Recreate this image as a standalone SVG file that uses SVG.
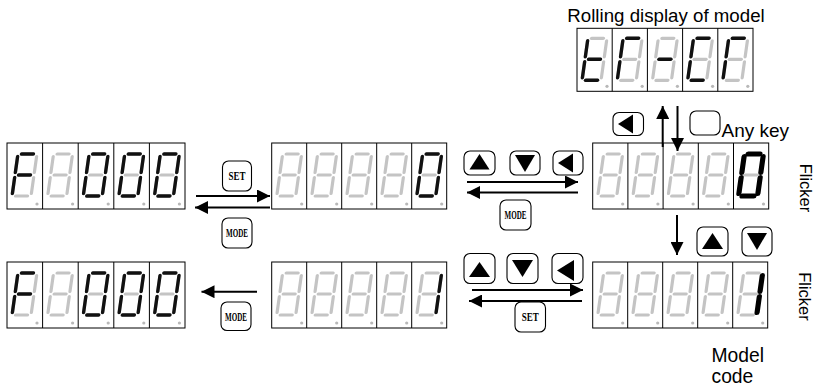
<svg xmlns="http://www.w3.org/2000/svg" xmlns:xlink="http://www.w3.org/1999/xlink" width="817" height="390" viewBox="0 0 817 390">
<style>
.frame{fill:none;stroke:#000;stroke-width:1}
.off{stroke:#c4c4c4;stroke-width:3.2;stroke-linecap:round;fill:none}
.on{stroke:#111;stroke-width:3.4;stroke-linecap:round;fill:none}
.bold{stroke:#000;stroke-width:5.2;stroke-linecap:round;fill:none}
.dot{fill:#b8b8b8}
.btn{fill:#fff;stroke:#000;stroke-width:1.1}
.tri{fill:#000}
.conn{stroke:#000;stroke-width:2;fill:none}
.lbl{font-family:"Liberation Sans",Arial,sans-serif;fill:#000}
.key{font-family:"Liberation Serif","Times New Roman",serif;font-weight:bold;font-size:12px;fill:#000}
</style>
<defs>
<marker id="ah" markerWidth="14" markerHeight="13" refX="13" refY="6.5" orient="auto" markerUnits="userSpaceOnUse"><path d="M0,0 L13,6.5 L0,13 z" fill="#000"/></marker>
<line id="sa" x1="3.5" y1="-21" x2="15.5" y2="-21"/>
<line id="sb" x1="19" y1="-18.5" x2="19" y2="-2.5"/>
<line id="sc" x1="19" y1="2.5" x2="19" y2="18.5"/>
<line id="sd" x1="3.5" y1="21" x2="15.5" y2="21"/>
<line id="se" x1="0" y1="2.5" x2="0" y2="18.5"/>
<line id="sf" x1="0" y1="-18.5" x2="0" y2="-2.5"/>
<line id="sg" x1="3.5" y1="0" x2="15.5" y2="0"/>
<g id="all"><use href="#sa"/><use href="#sb"/><use href="#sc"/><use href="#sd"/><use href="#se"/><use href="#sf"/><use href="#sg"/></g>
<g id="zero"><use href="#sa"/><use href="#sb"/><use href="#sc"/><use href="#sd"/><use href="#se"/><use href="#sf"/></g>
<g id="F"><use href="#sa"/><use href="#sf"/><use href="#se"/><use href="#sg"/></g>
<g id="one"><use href="#sb"/><use href="#sc"/></g>
<g id="t"><use href="#sf"/><use href="#se"/><use href="#sd"/><use href="#sg"/></g>
<g id="r"><use href="#sa"/><use href="#sf"/><use href="#se"/></g>
<g id="minus"><use href="#sg"/></g>
<g id="C"><use href="#sa"/><use href="#sf"/><use href="#se"/><use href="#sd"/></g>
<g id="cell"><g class="off" transform="translate(8,32) skewX(-8)"><use href="#all"/></g><circle class="dot" cx="30" cy="61" r="1.6"/></g>
<g id="cellR"><g class="off" transform="translate(8,31) skewX(-8)"><use href="#all"/></g><circle class="dot" cx="30" cy="58" r="1.6"/></g>
</defs>

<g id="display-rolling" transform="translate(577,28.3)">
<use href="#cellR"/><use href="#cellR" x="35.2"/><use href="#cellR" x="70.4"/><use href="#cellR" x="105.6"/><use href="#cellR" x="140.8"/>
<g class="on" transform="translate(8,31) skewX(-8)"><use href="#t"/><use href="#r" x="35.2"/><use href="#minus" x="70.4"/><use href="#C" x="105.6"/><use href="#r" x="140.8"/></g>
<rect class="frame" width="176" height="63"/>
<path class="frame" d="M35.2,0v63M70.4,0v63M105.6,0v63M140.8,0v63"/>
</g>

<g id="display-f000-top" transform="translate(7,143)">
<use href="#cell"/><use href="#cell" x="35.6"/><use href="#cell" x="71.2"/><use href="#cell" x="106.8"/><use href="#cell" x="142.4"/>
<g class="on" transform="translate(8,32) skewX(-8)"><use href="#F"/><use href="#zero" x="71.2"/><use href="#zero" x="106.8"/><use href="#zero" x="142.4"/></g>
<rect class="frame" width="178" height="66"/>
<path class="frame" d="M35.6,0v66M71.2,0v66M106.8,0v66M142.4,0v66"/>
</g>

<g id="display-0-top" transform="translate(271.7,143)">
<use href="#cell"/><use href="#cell" x="35"/><use href="#cell" x="70"/><use href="#cell" x="105"/><use href="#cell" x="140"/>
<g class="on" transform="translate(8,32) skewX(-8)"><use href="#zero" x="140"/></g>
<rect class="frame" width="175" height="66"/>
<path class="frame" d="M35,0v66M70,0v66M105,0v66M140,0v66"/>
</g>

<g id="display-0-flicker" transform="translate(592.7,143)">
<use href="#cell"/><use href="#cell" x="35.2"/><use href="#cell" x="70.4"/><use href="#cell" x="105.6"/><use href="#cell" x="140.8"/>
<g class="bold" transform="translate(8,32) skewX(-8)"><use href="#zero" x="140.8"/></g>
<rect class="frame" width="176" height="66"/>
<path class="frame" d="M35.2,0v66M70.4,0v66M105.6,0v66M140.8,0v66"/>
</g>

<g id="display-f000-bottom" transform="translate(7,262)">
<use href="#cell"/><use href="#cell" x="35.6"/><use href="#cell" x="71.2"/><use href="#cell" x="106.8"/><use href="#cell" x="142.4"/>
<g class="on" transform="translate(8,32) skewX(-8)"><use href="#F"/><use href="#zero" x="71.2"/><use href="#zero" x="106.8"/><use href="#zero" x="142.4"/></g>
<rect class="frame" width="178" height="66"/>
<path class="frame" d="M35.6,0v66M71.2,0v66M106.8,0v66M142.4,0v66"/>
</g>

<g id="display-1-bottom" transform="translate(271.7,262)">
<use href="#cell"/><use href="#cell" x="35"/><use href="#cell" x="70"/><use href="#cell" x="105"/><use href="#cell" x="140"/>
<g class="on" transform="translate(8,32) skewX(-8)"><use href="#one" x="140"/></g>
<rect class="frame" width="175" height="66"/>
<path class="frame" d="M35,0v66M70,0v66M105,0v66M140,0v66"/>
</g>

<g id="display-1-flicker" transform="translate(592.7,262)">
<use href="#cell"/><use href="#cell" x="35"/><use href="#cell" x="70"/><use href="#cell" x="105"/><use href="#cell" x="140"/>
<g class="bold" transform="translate(8,32) skewX(-8)"><use href="#one" x="140"/></g>
<rect class="frame" width="175" height="66"/>
<path class="frame" d="M35,0v66M70,0v66M105,0v66M140,0v66"/>
</g>

<g id="connectors">
<line class="conn" x1="196" y1="196" x2="270" y2="196" marker-end="url(#ah)"/>
<line class="conn" x1="270" y1="207.5" x2="195" y2="207.5" marker-end="url(#ah)"/>
<line class="conn" x1="467" y1="182" x2="578" y2="182" marker-end="url(#ah)"/>
<line class="conn" x1="578" y1="192.5" x2="467" y2="192.5" marker-end="url(#ah)"/>
<line class="conn" x1="662.7" y1="147" x2="662.7" y2="106" marker-end="url(#ah)"/>
<line class="conn" x1="677.5" y1="106" x2="677.5" y2="151" marker-end="url(#ah)"/>
<line class="conn" x1="677" y1="215" x2="677" y2="255" marker-end="url(#ah)"/>
<line class="conn" x1="472" y1="290" x2="583" y2="290" marker-end="url(#ah)"/>
<line class="conn" x1="582" y1="301" x2="469" y2="301" marker-end="url(#ah)"/>
<line class="conn" x1="257" y1="291.7" x2="201.5" y2="291.7" marker-end="url(#ah)"/>
</g>

<g id="btn-set-top"><rect class="btn" x="222.5" y="161" width="29" height="30" rx="6"/><text class="key" x="237" y="180" text-anchor="middle" textLength="17" lengthAdjust="spacingAndGlyphs">SET</text></g>
<g id="btn-mode-top-left"><rect class="btn" x="222" y="218" width="30" height="30" rx="6"/><text class="key" x="237" y="237" text-anchor="middle" textLength="22" lengthAdjust="spacingAndGlyphs">MODE</text></g>
<g id="btn-up-top"><rect class="btn" x="464" y="151" width="31" height="24" rx="6"/><path class="tri" d="M469.5,169.5 L489.5,169.5 L479.5,154 z"/></g>
<g id="btn-down-top"><rect class="btn" x="510" y="151" width="30" height="24" rx="6"/><path class="tri" d="M515,155 L535,155 L525,172 z"/></g>
<g id="btn-left-top"><rect class="btn" x="553" y="151" width="30" height="24" rx="6"/><path class="tri" d="M558,163 L573,153.5 L573,172.5 z"/></g>
<g id="btn-mode-top"><rect class="btn" x="500" y="200" width="31" height="30" rx="6"/><text class="key" x="515.5" y="219" text-anchor="middle" textLength="22" lengthAdjust="spacingAndGlyphs">MODE</text></g>
<g id="btn-left-right"><rect class="btn" x="613" y="112.5" width="30.5" height="23" rx="6"/><path class="tri" d="M618,124 L633,114.5 L633,133.5 z"/></g>
<g id="btn-any"><rect class="btn" x="690" y="111" width="30" height="24" rx="6"/></g>
<g id="btn-up-right"><rect class="btn" x="697" y="227" width="31" height="29" rx="6"/><path class="tri" d="M702,249 L723,249 L712.5,233 z"/></g>
<g id="btn-down-right"><rect class="btn" x="742" y="227" width="30" height="29" rx="6"/><path class="tri" d="M747,233 L767,233 L757,250 z"/></g>
<g id="btn-up-bottom"><rect class="btn" x="464" y="253.5" width="31" height="30" rx="6"/><path class="tri" d="M469,277 L490,277 L479.5,262 z"/></g>
<g id="btn-down-bottom"><rect class="btn" x="507" y="253.5" width="31" height="30" rx="6"/><path class="tri" d="M512,260 L533,260 L522.5,277 z"/></g>
<g id="btn-left-bottom"><rect class="btn" x="552" y="253.5" width="31" height="30" rx="6"/><path class="tri" d="M557,270.5 L574,260 L574,281 z"/></g>
<g id="btn-set-bottom"><rect class="btn" x="515" y="302" width="30.5" height="30" rx="6"/><text class="key" x="530.2" y="321" text-anchor="middle" textLength="17" lengthAdjust="spacingAndGlyphs">SET</text></g>
<g id="btn-mode-bottom"><rect class="btn" x="221" y="302" width="30" height="28.5" rx="6"/><text class="key" x="236" y="320.5" text-anchor="middle" textLength="22" lengthAdjust="spacingAndGlyphs">MODE</text></g>

<g id="labels">
<text class="lbl" x="666" y="21.5" font-size="18.7" text-anchor="middle">Rolling display of model</text>
<text class="lbl" x="721.5" y="137" font-size="19">Any key</text>
<text class="lbl" x="800" y="188" font-size="16.5" text-anchor="middle" transform="rotate(90 800 188)">Flicker</text>
<text class="lbl" x="799" y="296.5" font-size="16.5" text-anchor="middle" transform="rotate(90 799 296.5)">Flicker</text>
<text class="lbl" x="711.5" y="361.5" font-size="19.3">Model</text>
<text class="lbl" x="711.5" y="383" font-size="19.3">code</text>
</g>
</svg>
